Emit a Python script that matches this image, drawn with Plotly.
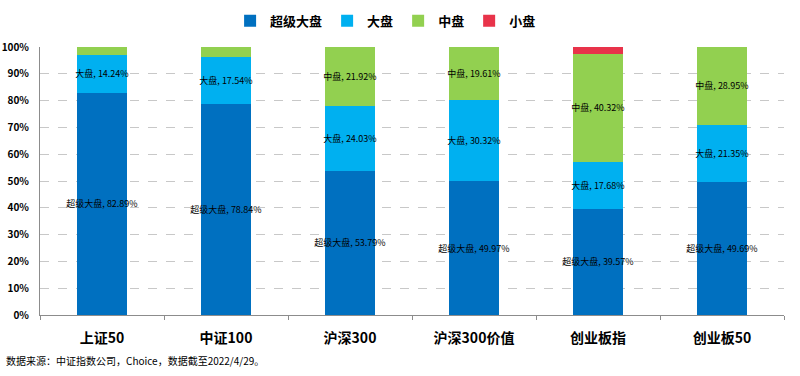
import plotly.graph_objects as go

categories = ["上证50", "中证100", "沪深300", "沪深300价值", "创业板指", "创业板50"]
series_names = ["超级大盘", "大盘", "中盘", "小盘"]
super_large = [82.89, 78.84, 53.79, 49.97, 39.57, 49.69]
large = [14.24, 17.54, 24.03, 30.32, 17.68, 21.35]
mid = [2.87, 3.62, 22.18, 19.71, 40.32, 28.96]
small = [0.0, 0.0, 0.0, 0.0, 2.43, 0.0]
# which segments carry a data label
show_label = {
    "超级大盘": [True, True, True, True, True, True],
    "大盘": [True, True, True, True, True, True],
    "中盘": [False, False, True, True, True, True],
    "小盘": [False, False, False, False, False, False],
}
label_values = {
    "超级大盘": super_large,
    "大盘": large,
    "中盘": [2.87, 3.62, 21.92, 19.61, 40.32, 28.95],
    "小盘": small,
}
colors = ["#0070C0", "#00B0F0", "#92D050", "#E8334A"]
y_ticks = [0, 10, 20, 30, 40, 50, 60, 70, 80, 90, 100]
y_tick_text = [f"{v}%" for v in y_ticks]

FONT = "Noto Sans CJK SC, Microsoft YaHei, sans-serif"

fig = go.Figure()
for name, vals, col in zip(series_names, [super_large, large, mid, small], colors):
    texts = [f"{name}, {v:.2f}%" if s else "" for v, s in zip(label_values[name], show_label[name])]
    fig.add_trace(go.Bar(
        x=categories, y=vals, name=name,
        marker=dict(color=col, line=dict(width=0)),
        width=0.4,
        text=texts, textposition="inside", insidetextanchor="middle",
        textangle=0, constraintext="none",
        textfont=dict(family=FONT, size=9, color="#000000"),
        hoverinfo="x+y+name",
    ))

fig.update_layout(
    barmode="stack",
    width=800, height=376,
    margin=dict(l=40, r=16, t=47, b=61, autoexpand=False),
    plot_bgcolor="white", paper_bgcolor="white",
    font=dict(family=FONT, color="#000000"),
    legend=dict(
        orientation="h", xref="container", yref="container",
        x=0.482, xanchor="center", y=0.945, yanchor="middle",
        font=dict(family=FONT, size=13, weight="bold"),
        itemwidth=30, traceorder="normal",
    ),
    xaxis=dict(
        automargin=False,
        showgrid=False, showline=True, linecolor="#8c8c8c", linewidth=1,
        ticks="outside", tickson="boundaries", ticklen=4, tickcolor="#8c8c8c",
        tickfont=dict(family=FONT, size=14, weight="bold", color="#000000"),
        ticklabelstandoff=10,
    ),
    yaxis=dict(
        automargin=False,
        range=[0, 100], tickvals=y_ticks, ticktext=y_tick_text,
        showgrid=True, gridcolor="#c8c8c8", griddash="dash", gridwidth=1,
        showline=True, linecolor="#8c8c8c", linewidth=1, zeroline=False,
        tickfont=dict(family=FONT, size=10, weight="bold", color="#000000"),
        ticklabelstandoff=8,
    ),
    annotations=[dict(
        text="数据来源：中证指数公司，Choice，数据截至2022/4/29。",
        xref="paper", yref="paper", x=-0.048, y=-0.168, xanchor="left", yanchor="middle",
        showarrow=False, font=dict(family=FONT, size=10, color="#000000"),
    )],
)

fig.write_html("out.html", config={"displayModeBar": False},
               post_script="document.body.style.margin='0';")
